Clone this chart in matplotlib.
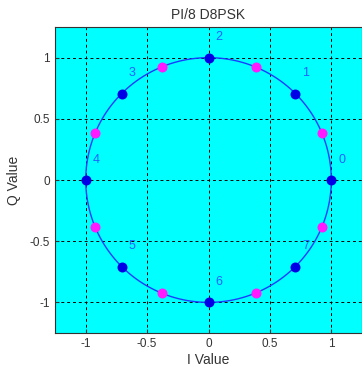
import numpy as np
import matplotlib.pyplot as plt

plt.rcParams['font.family'] = ['Liberation Sans', 'DejaVu Sans']

# constellation data
symbol_labels = ["0", "1", "2", "3", "4", "5", "6", "7"]
symbol_angles_deg = [0, 45, 90, 135, 180, 225, 270, 315]
rotated_angles_deg = [22.5, 67.5, 112.5, 157.5, 202.5, 247.5, 292.5, 337.5]
label_offset = (0.085, 0.165)
ticks = [-1, -0.5, 0, 0.5, 1]
tick_labels = ["-1", "-0.5", "0", "0.5", "1"]

sym = np.deg2rad(symbol_angles_deg)
rot = np.deg2rad(rotated_angles_deg)
theta = np.linspace(0, 2 * np.pi, 361)

fig = plt.figure(figsize=(3.62, 3.76), dpi=100)
ax = fig.add_axes([0.152, 0.1144, 0.848, 0.8136])
ax.set_facecolor("#00ffff")

ax.plot(np.cos(theta), np.sin(theta), color="#1a3cff", lw=1.0, zorder=2)
ax.plot(np.cos(rot), np.sin(rot), "o", color="#ff1aff", ms=7.2, mec="none", zorder=3)
ax.plot(np.cos(sym), np.sin(sym), "o", color="#0000e6", ms=7.2, mec="none", zorder=3)
for lab, a in zip(symbol_labels, sym):
    ax.text(np.cos(a) + label_offset[0], np.sin(a) + label_offset[1], lab,
            color="#1f5fff", fontsize=9, ha="center", va="center")

ax.set_xlim(-1.25, 1.25)
ax.set_ylim(-1.25, 1.25)
ax.set_xticks(ticks)
ax.set_xticklabels(tick_labels)
ax.set_yticks(ticks)
ax.set_yticklabels(tick_labels)
ax.tick_params(direction="in", length=3, labelsize=8.5, colors="#333333")
ax.grid(True, color="black", linestyle=(0, (3, 3)), linewidth=0.7)
ax.set_axisbelow(True)
for s in ax.spines.values():
    s.set_color("#333333")

ax.set_title("PI/8 D8PSK", fontsize=10, color="#333333", pad=6)
ax.set_xlabel("I Value", fontsize=10, color="#333333", labelpad=2)
ax.set_ylabel("Q Value", fontsize=10, color="#333333", labelpad=6)

fig.savefig("out.png", dpi=100)
